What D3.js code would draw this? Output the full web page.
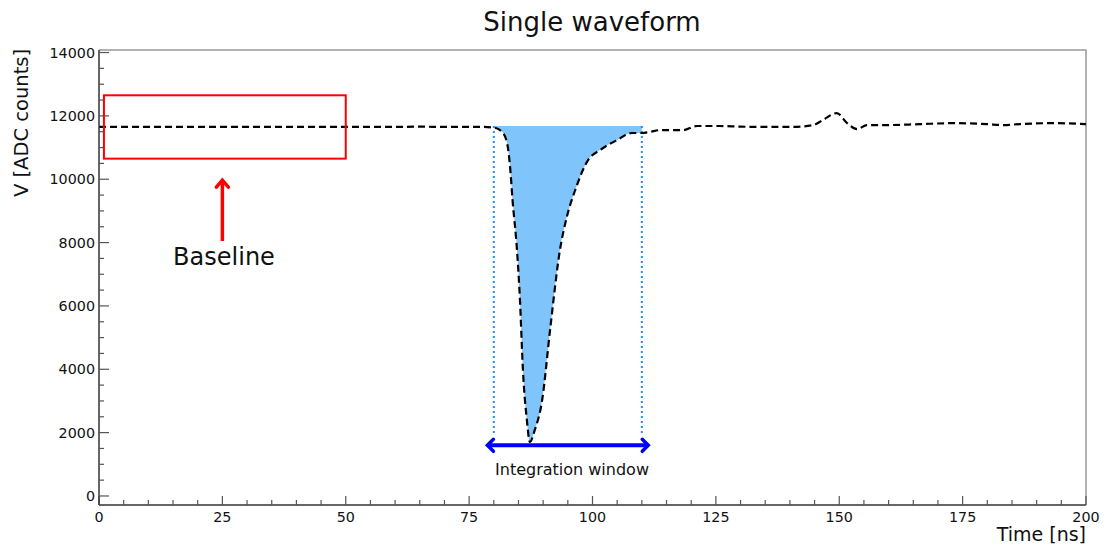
<!DOCTYPE html>
<html><head><meta charset="utf-8">
<script src="https://cdn.jsdelivr.net/npm/d3@7"></script>
<style>body{margin:0;background:#fff}svg{display:block;font-family:"DejaVu Sans",sans-serif}</style>
</head><body><svg id="c" width="1106" height="544"></svg>
<script>
// ---- data ----
const times = [0,5,10,15,20,25,30,35,40,45,50,55,60,65,70,75,78,80,81.7,82.7,83.3,83.8,84.7,85.3,85.9,86.7,87.3,88.3,89.8,91.4,93.4,94.8,96.5,99.1,101.5,105,108,110,111.6,113.7,118.3,121.2,125.8,129.9,136,140.6,144.7,146.7,149.5,151.6,153.6,155.6,159.7,166.4,173,179.9,183.2,186.6,193.3,200];
const volts = [11650,11650,11650,11650,11650,11650,11650,11650,11650,11650,11650,11650,11650,11660,11650,11650,11650,11630,11490,11140,10385,9340,7765,6190,3980,2400,1705,2080,3030,5240,7765,8810,9660,10605,10920,11240,11460,11460,11490,11550,11550,11680,11680,11660,11650,11650,11710,11870,12090,11770,11580,11710,11710,11740,11770,11740,11710,11740,11770,11740];
const xTicks = [0,25,50,75,100,125,150,175,200];
const yTicks = [0,2000,4000,6000,8000,10000,12000,14000];
const windowRange = [80,110];
const baselineLevel = 11680;
const baselineBox = {x0:1, x1:50, y0:10650, y1:12650};
const baselineArrow = {x:25, from:8050, to:10000};
const windowArrow = {x0:78.5, x1:111.5, y:1600};
const labels = {title:"Single waveform", x:"Time [ns]", y:"V [ADC counts]", baseline:"Baseline", window:"Integration window"};

// ---- scales ----
const svg = d3.select("#c");
const x = d3.scaleLinear().domain([0,200]).range([99,1086]);
const y = d3.scaleLinear().domain([-285,14080]).range([505,50]);
const pts = times.map((t,i)=>({t, v:volts[i]}));

// frame (top/right)
svg.append("path").attr("d",`M${x(0)},${y.range()[1]}H${x(200)}V${y.range()[0]}`)
  .attr("fill","none").attr("stroke","#999").attr("stroke-width",1.5);

// fill area
const inWin = pts.filter(d=>d.t>=windowRange[0]&&d.t<=windowRange[1]);
svg.append("path").datum(inWin)
  .attr("d",d3.area().x(d=>x(d.t)).y0(y(baselineLevel)).y1(d=>y(d.v)).curve(d3.curveMonotoneX))
  .attr("fill","#80c4fc");

// window dotted lines
windowRange.forEach(t=>{
  svg.append("line").attr("x1",x(t)).attr("x2",x(t)).attr("y1",y(baselineLevel)).attr("y2",y(1900))
    .attr("stroke","#1e90ff").attr("stroke-width",2).attr("stroke-dasharray","2,3");
});

// waveform
svg.append("path").datum(pts)
  .attr("d",d3.line().x(d=>x(d.t)).y(d=>y(d.v)).curve(d3.curveMonotoneX))
  .attr("fill","none").attr("stroke","#000").attr("stroke-width",2.2).attr("stroke-dasharray","7,4");

// axes
const gx = svg.append("g").attr("transform",`translate(0,${y.range()[0]})`);
gx.append("line").attr("x1",x(0)).attr("x2",x(200)).attr("stroke","#333").attr("stroke-width",1.5);
d3.range(0,201,5).forEach(t=>{
  const major = t%25===0;
  gx.append("line").attr("x1",x(t)).attr("x2",x(t)).attr("y1",0).attr("y2",major?-9:-5)
    .attr("stroke","#555").attr("stroke-width",1.2);
});
gx.selectAll("text").data(xTicks).join("text").attr("x",d=>x(d)).attr("y",17)
  .attr("text-anchor","middle").attr("font-size",14.3).attr("fill","#111").text(d=>d);

const gy = svg.append("g").attr("transform",`translate(${x(0)},0)`);
gy.append("line").attr("y1",y.range()[0]).attr("y2",y.range()[1]).attr("stroke","#333").attr("stroke-width",1.5);
d3.range(0,14001,500).forEach(v=>{
  const major = v%2000===0;
  gy.append("line").attr("x1",0).attr("x2",major?10:5).attr("y1",y(v)).attr("y2",y(v))
    .attr("stroke","#555").attr("stroke-width",1.2);
});
gy.selectAll("text").data(yTicks).join("text").attr("x",-4).attr("y",d=>y(d)).attr("dy","0.36em")
  .attr("text-anchor","end").attr("font-size",14.3).attr("fill","#111").text(d=>d);

// labels
svg.append("text").attr("x",592).attr("y",31).attr("text-anchor","middle").attr("font-size",26).attr("fill","#111").text(labels.title);
svg.append("text").attr("x",x(200)).attr("y",541).attr("text-anchor","end").attr("font-size",19).attr("fill","#111").text(labels.x);
svg.append("text").attr("transform","translate(28,123) rotate(-90)").attr("text-anchor","middle").attr("font-size",19.5).attr("fill","#111").text(labels.y);

// baseline box + arrow
svg.append("rect").attr("x",x(baselineBox.x0)).attr("y",y(baselineBox.y1))
  .attr("width",x(baselineBox.x1)-x(baselineBox.x0)).attr("height",y(baselineBox.y0)-y(baselineBox.y1))
  .attr("fill","none").attr("stroke","#ff0000").attr("stroke-width",2);
const ax = x(baselineArrow.x), aTop = y(baselineArrow.to), aBot = y(baselineArrow.from);
svg.append("line").attr("x1",ax).attr("x2",ax).attr("y1",aBot).attr("y2",aTop+1).attr("stroke","#ff0000").attr("stroke-width",3.5);
svg.append("path").attr("d",`M${ax-6},${aTop+8}L${ax},${aTop+1}L${ax+6},${aTop+8}`)
  .attr("fill","none").attr("stroke","#ff0000").attr("stroke-width",3.5).attr("stroke-linecap","round");
svg.append("text").attr("x",224).attr("y",265).attr("text-anchor","middle").attr("font-size",24).attr("fill","#111").text(labels.baseline);

// integration window arrow
const wy = y(windowArrow.y), wx0 = x(windowArrow.x0), wx1 = x(windowArrow.x1);
svg.append("line").attr("x1",wx0+1).attr("x2",wx1-1).attr("y1",wy).attr("y2",wy).attr("stroke","#0000ff").attr("stroke-width",4);
svg.append("path").attr("d",`M${wx0+7},${wy-6}L${wx0+1},${wy}L${wx0+7},${wy+6}`)
  .attr("fill","none").attr("stroke","#0000ff").attr("stroke-width",3.5).attr("stroke-linecap","round");
svg.append("path").attr("d",`M${wx1-7},${wy-6}L${wx1-1},${wy}L${wx1-7},${wy+6}`)
  .attr("fill","none").attr("stroke","#0000ff").attr("stroke-width",3.5).attr("stroke-linecap","round");
svg.append("text").attr("x",572).attr("y",475).attr("text-anchor","middle").attr("font-size",16).attr("fill","#111").text(labels.window);
</script></body></html>
